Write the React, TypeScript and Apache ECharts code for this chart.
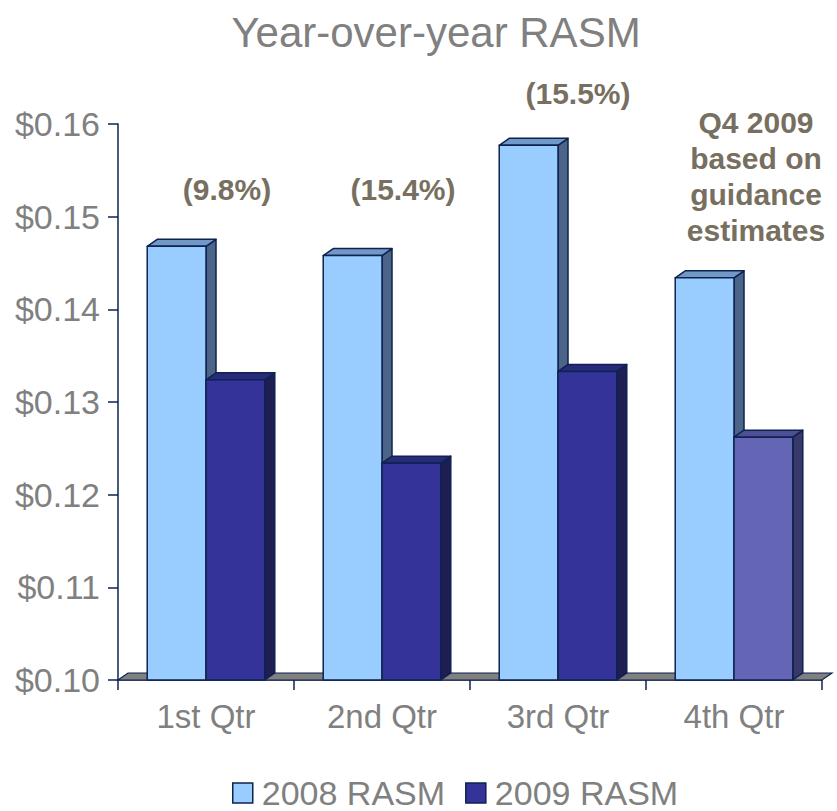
import React, { useEffect, useRef } from "react";
import * as echarts from "echarts";

// Quarterly revenue per available seat mile, 2008 vs 2009
const categories = ["1st Qtr", "2nd Qtr", "3rd Qtr", "4th Qtr"];
const rasm2008 = [0.1468, 0.1458, 0.1577, 0.1434];
const rasm2009 = [0.1324, 0.1234, 0.1333, 0.1262];
const estimated = [false, false, false, true];
const changeLabels = ["(9.8%)", "(15.4%)", "(15.5%)"];
const q4Note = "Q4 2009\nbased on\nguidance\nestimates";
const seriesNames = ["2008 RASM", "2009 RASM"];

const Y_MIN = 0.1;
const Y_MAX = 0.16;
const Y_STEP = 0.01;

// 3D extrusion offsets (pixels) and bar width as a fraction of the category band
const DX = 10;
const DY = -7;
const BAR_FRAC = 0.334;

const FONT = "'Liberation Sans', Arial, sans-serif";
const EDGE = "#0d2350";
const GREY_TEXT = "#808080";
const NOTE_TEXT = "#776f60";

const palette = [
  { front: "#99ccff", top: "#7099c8", side: "#4b6487" },
  { front: "#333399", top: "#2a2a7c", side: "#1e1e52" },
];
const estimatePalette = { front: "#6565b5", top: "#4f4f98", side: "#38386a" };

function barRenderer(slot: number) {
  return (params: any, api: any) => {
    const idx = api.value(0);
    const val = api.value(1);
    const base = api.coord([idx, Y_MIN]);
    const top = api.coord([idx, val]);
    const band = api.size([1, 0])[0];
    const w = band * BAR_FRAC;
    const x0 = base[0] - w + slot * w;
    const x1 = x0 + w;
    const yT = top[1];
    const yB = base[1];
    const c =
      slot === 1 && estimated[params.dataIndex] ? estimatePalette : palette[slot];
    const stroke = { stroke: EDGE, lineWidth: 1.5, lineJoin: "round" };
    return {
      type: "group",
      children: [
        {
          type: "polygon",
          shape: {
            points: [
              [x1, yT],
              [x1 + DX, yT + DY],
              [x1 + DX, yB + DY],
              [x1, yB],
            ],
          },
          style: { fill: c.side, ...stroke },
        },
        {
          type: "polygon",
          shape: {
            points: [
              [x0, yT],
              [x0 + DX, yT + DY],
              [x1 + DX, yT + DY],
              [x1, yT],
            ],
          },
          style: { fill: c.top, ...stroke },
        },
        {
          type: "rect",
          shape: { x: x0, y: yT, width: w, height: yB - yT },
          style: { fill: c.front, ...stroke },
        },
      ],
    };
  };
}

function floorRenderer(params: any) {
  const cs = params.coordSys;
  const yB = cs.y + cs.height;
  return {
    type: "polygon",
    shape: {
      points: [
        [cs.x, yB],
        [cs.x + DX, yB + DY],
        [cs.x + cs.width + DX, yB + DY],
        [cs.x + cs.width, yB],
      ],
    },
    style: { fill: "#808080", stroke: EDGE, lineWidth: 1.2 },
  };
}

export default function App() {
  const ref = useRef<HTMLDivElement>(null);

  useEffect(() => {
    if (!ref.current) return;
    document.body.style.margin = "0";
    document.body.style.overflow = "hidden";
    const chart = echarts.init(ref.current, undefined, { renderer: "svg" });

    const noteStyle = {
      fill: NOTE_TEXT,
      fontFamily: FONT,
      fontWeight: "bold",
      fontSize: 30,
      textAlign: "center",
      textVerticalAlign: "middle",
    };

    chart.setOption({
      animation: false,
      backgroundColor: "#ffffff",
      title: {
        text: "Year-over-year RASM",
        left: 431,
        top: 6,
        textAlign: "center",
        textStyle: {
          color: GREY_TEXT,
          fontFamily: FONT,
          fontWeight: "normal",
          fontSize: 42,
        },
      },
      grid: { left: 118, right: 15, top: 124, bottom: 131 },
      xAxis: {
        type: "category",
        data: categories,
        boundaryGap: true,
        axisLine: { show: true, lineStyle: { color: EDGE, width: 1.5 } },
        axisTick: { show: true, length: 10, lineStyle: { color: EDGE, width: 1.5 } },
        axisLabel: {
          color: GREY_TEXT,
          fontFamily: FONT,
          fontSize: 33,
          margin: 20,
        },
        splitLine: { show: false },
      },
      yAxis: {
        type: "value",
        min: Y_MIN,
        max: Y_MAX,
        interval: Y_STEP,
        axisLine: { show: true, lineStyle: { color: EDGE, width: 1.5 } },
        axisTick: { show: true, length: 10, lineStyle: { color: EDGE, width: 1.5 } },
        axisLabel: {
          color: GREY_TEXT,
          fontFamily: FONT,
          fontSize: 34,
          margin: 18,
          formatter: (v: number) => "$" + v.toFixed(2),
        },
        splitLine: { show: false },
      },
      legend: {
        data: seriesNames.map((name, i) => ({
          name,
          icon: "rect",
          itemStyle: { color: palette[i].front, borderColor: EDGE, borderWidth: 1.5 },
        })),
        left: 232,
        top: 775,
        padding: 0,
        itemWidth: 20,
        itemHeight: 20,
        itemGap: 20,
        textStyle: {
          color: GREY_TEXT,
          fontFamily: FONT,
          fontSize: 34,
          lineHeight: 36,
          padding: [0, 0, 0, 4],
        },
      },
      series: [
        {
          type: "custom",
          name: "floor",
          silent: true,
          z: 1,
          renderItem: floorRenderer,
          data: [[0, Y_MIN]],
          encode: { x: 0, y: 1 },
        },
        ...[rasm2008, rasm2009].map((vals, s) => ({
          type: "custom",
          name: seriesNames[s],
          z: 2 + s,
          itemStyle: { color: palette[s].front },
          renderItem: barRenderer(s),
          data: vals.map((v, i) => [i, v]),
          encode: { x: 0, y: 1 },
        })),
      ],
      graphic: [
        { type: "text", x: 227, y: 189, style: { text: changeLabels[0], ...noteStyle } },
        { type: "text", x: 403, y: 189, style: { text: changeLabels[1], ...noteStyle } },
        { type: "text", x: 578, y: 93, style: { text: changeLabels[2], ...noteStyle } },
        {
          type: "text",
          x: 756,
          y: 176,
          style: { text: q4Note, ...noteStyle, lineHeight: 36 },
        },
      ],
    });

    return () => chart.dispose();
  }, []);

  return (
    <div
      ref={ref}
      style={{ position: "absolute", left: 0, top: 0, width: 837, height: 811 }}
    />
  );
}
